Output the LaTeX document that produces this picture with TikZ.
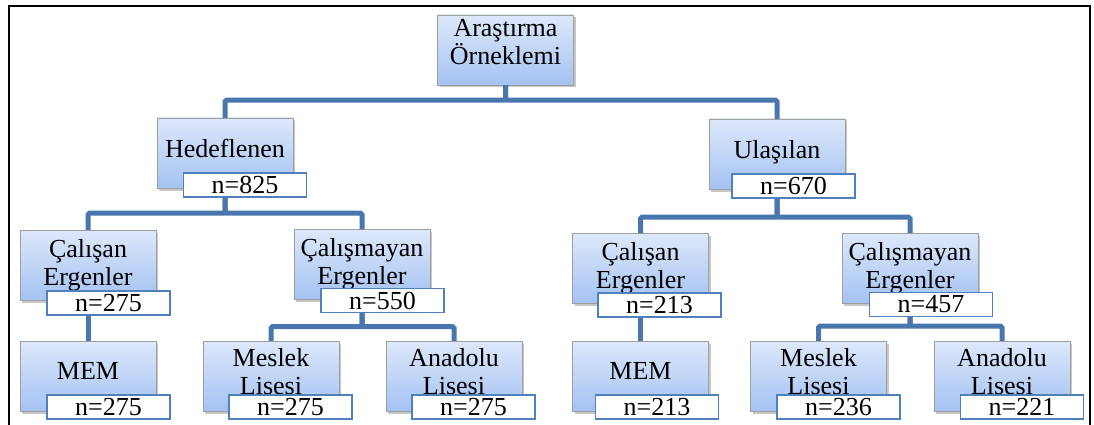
\documentclass[tikz,border=0pt]{standalone}
\usepackage{fontspec}
\setmainfont{Liberation Serif}
\usetikzlibrary{shadows,positioning,calc}
\definecolor{boxtop}{HTML}{DDE8FB}
\definecolor{boxbot}{HTML}{A4C2F2}
\definecolor{linkblue}{HTML}{4A76AE}
\definecolor{nblue}{HTML}{4F81BD}

\begin{document}
\begin{tikzpicture}[x=1pt, y=-1pt, font=\fontsize{26}{28}\selectfont]
\tikzstyle{grp}=[rectangle, draw=gray!75, top color=boxtop, bottom color=boxbot, minimum width=136pt, minimum height=70pt, align=center, inner sep=0pt, text depth=6pt, drop shadow={shadow xshift=2pt, shadow yshift=-2.5pt, opacity=0.45}]
\tikzstyle{single}=[text depth=10pt]
\tikzstyle{school}=[text depth=10pt]
\tikzstyle{cnt}=[rectangle, draw=nblue, line width=1.2pt, fill=white, minimum width=123pt, minimum height=24pt, inner sep=0pt]
\tikzstyle{link}=[draw=linkblue, line width=5pt, rounded corners=1.5pt]
\useasboundingbox (0,0) rectangle (1094,425);
\draw[line width=2pt] (9,425) -- (9,6) -- (1090,6) -- (1090,425);

% boxes
\node[grp, text depth=16pt]  (root) at (505.5,50)  {Araştırma\\Örneklemi};
\node[grp, single] (hed)  at (225,153)  {Hedeflenen};
\node[grp, single] (ula)  at (777,154)  {Ulaşılan};
\node[grp]  (cal1)  at (88,265)    {Çalışan\\Ergenler};
\node[grp]  (calm1) at (362,264.5) {Çalışmayan\\Ergenler};
\node[grp]  (cal2)  at (640.5,268.5) {Çalışan\\Ergenler};
\node[grp]  (calm2) at (910,268)   {Çalışmayan\\Ergenler};
\node[grp, single] (mem1) at (88,376)     {MEM};
\node[grp, school]  (mes1)  at (271,376)   {Meslek\\Lisesi};
\node[grp, school]  (ana1)  at (454,376)   {Anadolu\\Lisesi};
\node[grp, single] (mem2) at (640.5,376)  {MEM};
\node[grp, school]  (mes2)  at (818.5,376) {Meslek\\Lisesi};
\node[grp, school]  (ana2)  at (1002,376)  {Anadolu\\Lisesi};

% connectors
\draw[link] (root.south) -- ++(0,15) -| (hed.north);
\draw[link] (root.south) -- ++(0,15) -| (ula.north);
\draw[link] (hed.south) -- ++(0,25) -| (cal1.north);
\draw[link] (hed.south) -- ++(0,25) -| (calm1.north);
\draw[link] (ula.south) -- ++(0,28) -| (cal2.north);
\draw[link] (ula.south) -- ++(0,28) -| (calm2.north);
\draw[link] (cal1.south) -- (mem1.north);
\draw[link] (calm1.south) -- ++(0,27) -| (mes1.north);
\draw[link] (calm1.south) -- ++(0,27) -| (ana1.north);
\draw[link] (cal2.south) -- (mem2.north);
\draw[link] (calm2.south) -- ++(0,23) -| (mes2.north);
\draw[link] (calm2.south) -- ++(0,23) -| (ana2.north);

% counts
\node[cnt] (hedn)   at (245,185)    {n=825};
\node[cnt] (ulan)   at (793.5,186)  {n=670};
\node[cnt] (cal1n)  at (108.5,303)  {n=275};
\node[cnt] (calm1n) at (382.5,300.5) {n=550};
\node[cnt] (cal2n)  at (659.5,305)  {n=213};
\node[cnt] (calm2n) at (931,304.5)  {n=457};
\node[cnt] (mem1n)  at (108.5,407)  {n=275};
\node[cnt] (mes1n)  at (290.5,407)  {n=275};
\node[cnt] (ana1n)  at (473.5,407)  {n=275};
\node[cnt] (mem2n)  at (657,407)    {n=213};
\node[cnt] (mes2n)  at (838.5,407)  {n=236};
\node[cnt] (ana2n)  at (1022,407)   {n=221};
\end{tikzpicture}
\end{document}
